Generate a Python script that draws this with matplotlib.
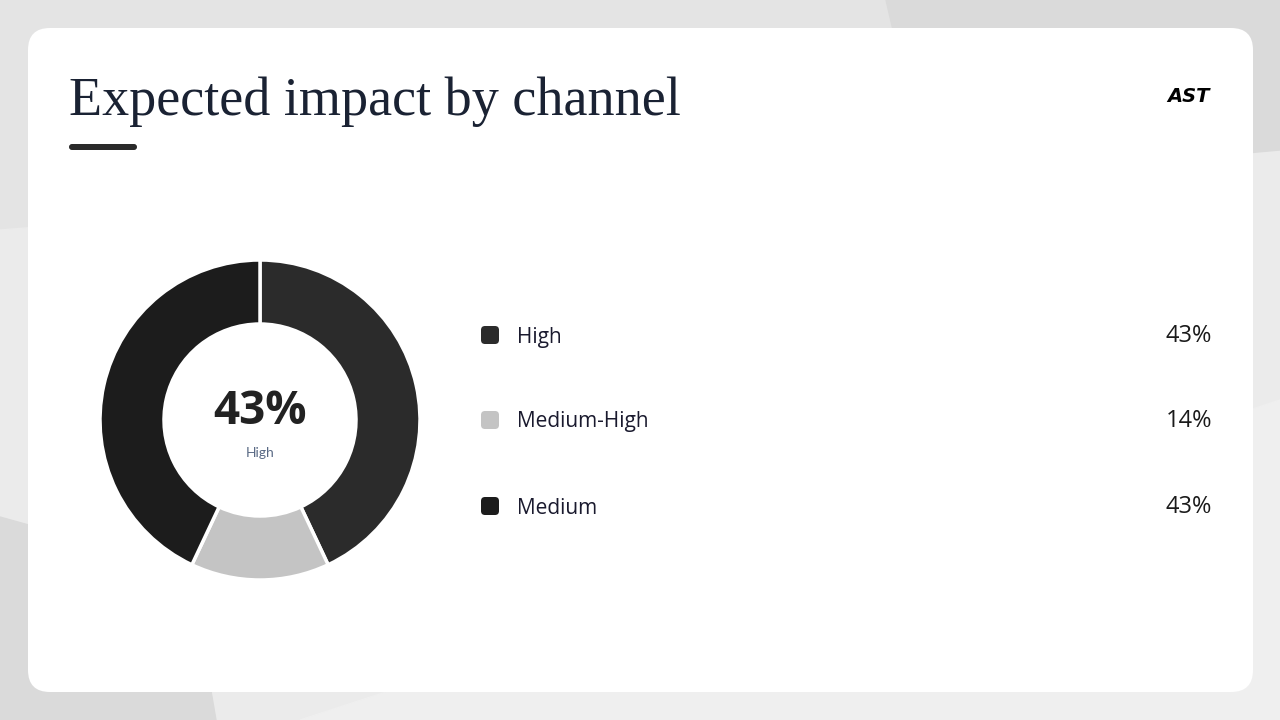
import matplotlib.pyplot as plt
from matplotlib.patches import FancyBboxPatch, Polygon

# chart data
labels = ['High', 'Medium-High', 'Medium']
values = [43, 14, 43]
colors = ['#2b2b2b', '#c4c4c4', '#1c1c1c']
title = 'Expected impact by channel'
center_value = '43%'
center_label = 'High'

W, H = 1280, 720
fig = plt.figure(figsize=(12.8, 7.2), dpi=100)
fig.patch.set_facecolor('#e4e4e4')

# full-size axes in pixel units for background, card and text
bg = fig.add_axes([0, 0, 1, 1])
bg.set_xlim(0, W)
bg.set_ylim(H, 0)
bg.axis('off')

# soft background shapes
bg.add_patch(Polygon([(0, 0), (W, 0), (W, H), (0, H)], color='#e4e4e4', zorder=0))
bg.add_patch(Polygon([(0, 230), (1280, 130), (1280, 720), (0, 720)], color='#ebebeb', zorder=0))
bg.add_patch(Polygon([(300, 720), (1280, 400), (1280, 720)], color='#efefef', zorder=0))
bg.add_patch(Polygon([(886, 0), (1280, 0), (1280, 150), (1000, 175), (900, 60)], color='#dadada', zorder=1))
bg.add_patch(Polygon([(0, 517), (190, 570), (216, 720), (0, 720)], color='#dadada', zorder=1))

# white card
card = FancyBboxPatch((28, 28), 1225, 664, boxstyle='round,pad=0,rounding_size=22',
                      facecolor='white', edgecolor='none', zorder=2)
bg.add_patch(card)

# title and accent bar
bg.text(69, 115, title, fontsize=39, family='Liberation Serif', color='#1a2233',
        ha='left', va='baseline', zorder=3)
bar = FancyBboxPatch((69, 144), 68, 6, boxstyle='round,pad=0,rounding_size=3',
                     facecolor='#2a2a2a', edgecolor='none', zorder=3)
bg.add_patch(bar)

# logo
bg.text(1210, 96, 'AST', fontsize=14, fontweight='heavy', fontstyle='italic',
        family='DejaVu Sans', color='black', ha='right', va='center', zorder=3)

# legend rows
row_y = [335, 420, 506]
for lab, val, col, y in zip(labels, values, colors, row_y):
    sq = FancyBboxPatch((481, y - 9), 18, 18, boxstyle='round,pad=0,rounding_size=4',
                        facecolor=col, edgecolor='none', zorder=3)
    bg.add_patch(sq)
    bg.text(517, y + 2, lab, fontsize=15, fontweight='medium', family='Open Sans',
            color='#1a1a2e', ha='left', va='center', zorder=3)
    bg.text(1212, y + 1, f'{val}%', fontsize=17, fontweight='medium', family='Open Sans',
            color='#1a1a1a', ha='right', va='center', zorder=3)

# donut chart
cx, cy, r = 260, 420, 160
pad = 6
ax = fig.add_axes([(cx - r - pad) / W, (H - cy - r - pad) / H,
                   2 * (r + pad) / W, 2 * (r + pad) / H])
ax.pie(values, colors=colors, startangle=90, counterclock=False, radius=1,
       wedgeprops=dict(width=0.4, edgecolor='white', linewidth=2.5))
lim = (r + pad) / r
ax.set_xlim(-lim, lim)
ax.set_ylim(-lim, lim)
ax.set_aspect('equal')
ax.axis('off')

bg.text(cx, 411, center_value, fontsize=33, fontweight='bold', family='Open Sans',
        color='#222222', ha='center', va='center', zorder=5)
bg.text(cx, 453, center_label, fontsize=10, family='Lato', color='#5a6a85',
        ha='center', va='center', zorder=5)

fig.savefig('out.png', dpi=100, facecolor=fig.get_facecolor())
